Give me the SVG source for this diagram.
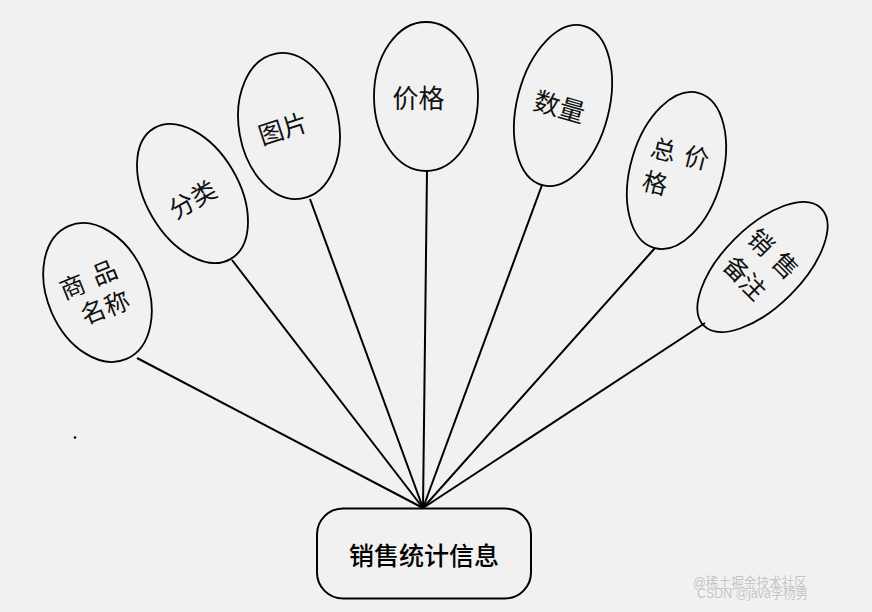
<svg xmlns="http://www.w3.org/2000/svg" width="872" height="612" viewBox="0 0 872 612">
<style>
.bg{fill:#f1f1f1}
.attr{fill:none;stroke:#000;stroke-width:1.8}
.ent{fill:none;stroke:#000;stroke-width:2}
.conn line{stroke:#000;stroke-width:2}
.t{font-family:"Noto Sans CJK SC","Noto Sans CJK JP",sans-serif;font-size:25px;fill:#111;text-anchor:middle;dominant-baseline:central}
.et{font-family:"Noto Sans CJK SC",sans-serif;font-size:25px;font-weight:500;fill:#000;text-anchor:middle;dominant-baseline:central}
.wm{font-family:"Liberation Sans","Noto Sans CJK SC",sans-serif;font-size:15px;fill:#c4c4c4;stroke:#fafafa;stroke-width:0.6;paint-order:stroke}
</style>
<rect class="bg" x="0" y="0" width="872" height="612"/>
<g id="connectors" class="conn">
<line x1="137" y1="358" x2="423" y2="508"/>
<line x1="232" y1="260" x2="423" y2="508"/>
<line x1="310" y1="199" x2="423" y2="508"/>
<line x1="427" y1="171" x2="423" y2="508"/>
<line x1="542" y1="185" x2="423" y2="508"/>
<line x1="655" y1="248" x2="423" y2="508"/>
<line x1="705" y1="323" x2="423" y2="508"/>
</g>
<g id="name">
<ellipse class="attr" cx="0" cy="0" rx="50" ry="72.5" transform="translate(97.5,292.5) rotate(-23.6)"/>
<text class="t" transform="translate(71.7,285) rotate(-22)"><tspan x="0" y="0">商</tspan><tspan x="35" y="-1">品</tspan><tspan x="10" y="31">名</tspan><tspan x="35" y="32">称</tspan></text>
</g>
<g id="category">
<ellipse class="attr" cx="0" cy="0" rx="46.5" ry="75.8" transform="translate(192.5,193.5) rotate(-30.4)"/>
<text class="t" transform="translate(191.7,198) rotate(-30)" x="0" y="0">分类</text>
</g>
<g id="image">
<ellipse class="attr" cx="0" cy="0" rx="50" ry="73.6" transform="translate(289,126) rotate(-10.3)"/>
<text class="t" transform="translate(282.5,127) rotate(-18)" x="0" y="0">图片</text>
</g>
<g id="price">
<ellipse class="attr" cx="426" cy="96.5" rx="52" ry="74.5"/>
<text class="t" x="418.5" y="96.5" style="font-size:26px">价格</text>
</g>
<g id="quantity">
<ellipse class="attr" cx="0" cy="0" rx="46" ry="82.3" transform="translate(563,105.5) rotate(14.4)"/>
<text class="t" transform="translate(560,105) rotate(16)" x="0" y="0" style="font-size:26px">数量</text>
</g>
<g id="total">
<ellipse class="attr" cx="0" cy="0" rx="46" ry="80.6" transform="translate(676.5,170.5) rotate(16.2)"/>
<text class="t" transform="translate(664,148) rotate(14)"><tspan x="0" y="0">总</tspan><tspan x="34" y="0">价</tspan><tspan x="0" y="34.5">格</tspan></text>
</g>
<g id="remark">
<ellipse class="attr" cx="0" cy="0" rx="39.5" ry="83" transform="translate(762.5,267) rotate(45)"/>
<text class="t" transform="translate(762,241) rotate(45)"><tspan x="0" y="0">销</tspan><tspan x="34" y="-1">售</tspan><tspan x="2" y="36">备</tspan><tspan x="26" y="37">注</tspan></text>
</g>
<circle cx="75" cy="437.5" r="1.3" fill="#000"/>
<g id="sales-stats">
<rect class="ent" x="317" y="508.5" width="214" height="90" rx="26" ry="26"/>
<text class="et" x="424" y="554">销售统计信息</text>
</g>
<g id="watermark">
<text class="wm" x="693" y="588" textLength="114" lengthAdjust="spacingAndGlyphs">@稀土掘金技术社区</text>
<text class="wm" x="697" y="598" textLength="111" lengthAdjust="spacingAndGlyphs">CSDN @java李杨勇</text>
</g>
</svg>
